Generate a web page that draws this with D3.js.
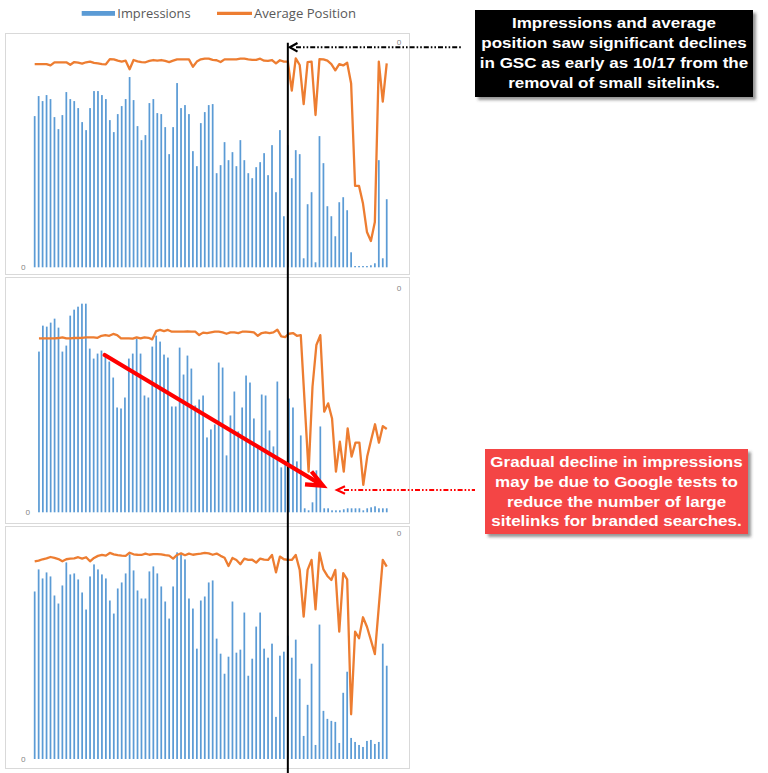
<!DOCTYPE html>
<html><head><meta charset="utf-8">
<script src="https://cdn.jsdelivr.net/npm/d3@7"></script>
<style>body{margin:0;background:#fff;} svg{display:block;}</style>
</head><body>
<svg id="c" width="768" height="773"></svg>
<script>
// ---------- DATA ----------
const days = d3.timeDay.range(new Date(2017, 7, 14), new Date(2017, 10, 12)).map(d3.timeFormat("%m/%d"));
const markerDay = "10/17";
const seriesNames = ["Impressions", "Average Position"];
const axisTickLabels = ["0"];

const impressionsA = [151,171,166,172,168,150,138,152,175,168,
 166,159,145,137,159,176,176,172,168,147,
 135,153,161,168,190,167,141,127,132,164,
 168,154,153,140,113,140,184,159,162,153,
 116,101,144,155,162,163,94,102,125,107,
 115,101,127,107,94,89,100,105,114,92,
 122,75,137,51,122,89,117,113,9,63,
 75,5,131,104,61,51,31,65,70,57,
 15,1.3,1.3,1.3,1.3,2,4,107,9,68];
const positionA = [0.98,0.98,0.98,0.98,1.04,0.90,0.90,0.90,0.90,1.01,
 0.89,0.92,0.96,0.90,0.87,0.93,0.95,0.98,0.99,0.76,
 0.77,0.83,0.87,0.83,1.21,0.80,0.86,0.89,0.90,0.84,
 0.80,0.83,0.80,0.84,0.89,0.83,0.77,0.77,0.77,0.77,
 1.10,0.87,0.77,0.74,0.74,0.79,0.81,0.89,0.77,0.77,
 0.77,0.77,0.74,0.74,0.77,0.79,0.79,0.74,0.83,0.84,
 0.80,0.95,0.81,0.87,0.87,2.16,0.73,1.02,2.76,0.89,
 0.87,3.24,0.76,0.77,0.83,0.98,1.26,0.98,1.04,0.92,
 1.84,6.39,6.39,7.17,8.43,8.83,7.99,0.87,2.65,0.95];

const impressionsB = [161,187,186,190,194,185,161,167,197,203,
 206,209,209,164,154,159,162,156,151,135,
 105,104,115,154,159,174,159,117,115,166,
 177,171,158,155,106,106,165,138,157,144,
 107,113,117,75,83,88,150,145,57,97,
 121,81,105,137,130,94,66,118,117,82,
 66,131,45,51,114,105,51,77,4,2,
 10,42,86,4,4,2,2,2,3,4,
 4,4,4,2,4,5,6,4,4,4];
const positionB = [2.26,2.26,2.26,2.26,2.26,2.24,2.21,2.26,2.26,2.24,
 2.24,2.23,2.21,2.21,2.21,2.23,2.14,2.11,2.14,2.06,
 2.11,2.26,2.26,2.26,2.27,2.21,2.26,2.21,2.23,2.30,
 1.93,1.88,1.93,1.88,1.96,1.96,1.96,1.96,1.94,1.96,
 1.96,2.11,2.00,2.02,1.99,1.96,1.96,1.99,2.05,1.99,
 1.99,2.02,1.96,1.96,1.97,1.99,2.14,2.02,1.99,2.02,
 1.99,1.87,2.17,2.20,2.05,2.02,2.14,2.11,5.15,8.19,
 4.41,2.55,2.11,5.52,5.15,5.82,8.19,6.85,8.19,6.26,
 7.52,6.90,6.90,8.78,7.52,6.78,6.08,6.90,6.16,6.29];

const impressionsC = [167,189,180,186,182,163,155,173,196,184,
 185,179,166,149,182,194,189,184,180,158,
 145,170,176,185,204,188,168,160,160,187,
 192,185,172,157,140,172,206,204,199,160,
 150,110,158,162,176,178,120,105,85,102,
 157,106,109,146,83,100,132,146,110,101,
 115,42,103,107,123,101,119,80,23,54,
 95,14,134,48,40,38,37,16,66,87,
 21,17,14,12,18,19,15,17,115,93];
const positionC = [1.24,1.21,1.15,1.11,1.05,1.09,1.14,1.24,1.15,1.12,
 1.11,1.06,1.12,1.06,1.24,1.09,1.00,0.96,0.99,0.87,
 0.93,0.97,0.99,1.00,0.86,0.93,0.95,0.96,0.90,0.95,
 0.92,0.92,0.93,0.97,0.99,1.12,0.96,0.89,0.97,0.90,
 0.95,0.92,0.90,0.87,0.89,0.95,0.90,1.00,1.08,1.45,
 1.09,1.18,1.37,1.12,1.18,1.17,1.30,1.12,1.17,1.18,
 0.96,1.73,1.03,1.15,1.18,1.18,0.96,1.62,3.69,1.62,
 1.18,3.37,0.86,1.60,1.89,2.07,1.62,4.36,1.77,2.04,
 8.02,4.36,4.65,3.72,4.14,4.73,5.35,3.25,1.18,1.48];

const impressionsMax = 225;
const positionMax = 10;

const noteTop = ["Impressions and average", "position saw significant declines",
                 "in GSC as early as 10/17 from the", "removal of small sitelinks."];
const noteBottom = ["Gradual decline in impressions", "may be due to Google tests to",
                    "reduce the number of large", "sitelinks for branded searches."];

// ---------- STYLE ----------
const BLUE = "#5B9BD5", ORANGE = "#ED7D31", RED_BOX = "#f44545", RED = "#ff0000";
const SX = 1.165; // horizontal stretch seen in the picture text

const svg = d3.select("#c");
svg.append("rect").attr("width", 768).attr("height", 773).attr("fill", "#fff");

const defs = svg.append("defs");
const f = defs.append("filter").attr("id", "sh").attr("x", "-10%").attr("y", "-10%").attr("width", "130%").attr("height", "140%");
f.append("feDropShadow").attr("dx", 3).attr("dy", 3).attr("stdDeviation", 1.6)
  .attr("flood-color", "#404040").attr("flood-opacity", 0.55);

// ---------- LEGEND ----------
const lg = svg.append("g");
lg.append("rect").attr("x", 81.7).attr("y", 11).attr("width", 33.3).attr("height", 4.8).attr("fill", BLUE);
lg.append("text").attr("x", 117.3).attr("y", 18).attr("textLength", 73.3).attr("lengthAdjust", "spacingAndGlyphs")
  .attr("font-family", "Open Sans, sans-serif").attr("font-size", 12.8).attr("fill", "#595959").text(seriesNames[0]);
lg.append("line").attr("x1", 217).attr("x2", 252).attr("y1", 13.4).attr("y2", 13.4)
  .attr("stroke", ORANGE).attr("stroke-width", 3.2);
lg.append("text").attr("x", 254).attr("y", 18).attr("textLength", 102).attr("lengthAdjust", "spacingAndGlyphs")
  .attr("font-family", "Open Sans, sans-serif").attr("font-size", 12.8).attr("fill", "#595959").text(seriesNames[1]);

// ---------- PANELS ----------
const panels = [
  {imp: impressionsA, pos: positionA, box: [5, 33, 404, 241], x: [32.7, 388.7], y: [267.3, 42]},
  {imp: impressionsB, pos: positionB, box: [5, 277, 404, 246], x: [37.0, 388.7], y: [512.3, 287.7]},
  {imp: impressionsC, pos: positionC, box: [5, 526, 404, 242], x: [32.7, 388.7], y: [759, 533.3]}
];

let markerX = null;
panels.forEach((p, k) => {
  const g = svg.append("g");
  g.append("rect").attr("x", p.box[0] + 0.5).attr("y", p.box[1] + 0.5).attr("width", p.box[2]).attr("height", p.box[3])
    .attr("fill", "#fff").attr("stroke", "#d9d9d9").attr("stroke-width", 1);

  const x = d3.scaleBand().domain(days).range(p.x).paddingInner(0.56).paddingOuter(0.28);
  const yI = d3.scaleLinear().domain([0, impressionsMax]).range(p.y);
  const yP = d3.scaleLinear().domain([0, positionMax]).range([p.y[1], p.y[0]]);
  const cx = d => x(d) + x.bandwidth() / 2;
  if (k === 0) markerX = cx(markerDay);

  g.selectAll("rect.bar").data(p.imp).join("rect").attr("class", "bar")
    .attr("x", (d, i) => x(days[i])).attr("width", x.bandwidth())
    .attr("y", d => yI(d)).attr("height", d => yI(0) - yI(d)).attr("fill", BLUE);

  const line = d3.line().x((d, i) => cx(days[i])).y(d => yP(d));
  g.append("path").datum(p.pos).attr("d", line).attr("fill", "none")
    .attr("stroke", ORANGE).attr("stroke-width", 2.3).attr("stroke-linejoin", "round");

  const la = g.append("g").attr("transform", `translate(${p.x[0]},0)`)
    .call(d3.axisLeft(yI).tickValues([0]).tickSize(0).tickPadding(7).tickFormat(() => axisTickLabels[0]));
  const ra = g.append("g").attr("transform", `translate(${p.x[1]},0)`)
    .call(d3.axisRight(yP).tickValues([0]).tickSize(0).tickPadding(8).tickFormat(() => axisTickLabels[0]));
  [la, ra].forEach(a => {
    a.select(".domain").remove();
    a.selectAll("text").attr("font-family", "Open Sans, sans-serif").attr("font-size", 8).attr("fill", "#7f7f7f");
  });
});

// ---------- ANNOTATIONS ----------
const ann = svg.append("g");
// vertical marker line
ann.append("line").attr("x1", markerX).attr("x2", markerX).attr("y1", 42.7).attr("y2", 773)
  .attr("stroke", "#000").attr("stroke-width", 2);

// black dash-dot arrow
ann.append("line").attr("x1", 296).attr("x2", 461).attr("y1", 47.3).attr("y2", 47.3)
  .attr("stroke", "#000").attr("stroke-width", 2).attr("stroke-dasharray", "5,2,1.6,2,1.6,2");
ann.append("path").attr("d", d3.line()([[297.5, 43], [289.8, 47.3], [297.5, 51.6]]))
  .attr("fill", "none").attr("stroke", "#000").attr("stroke-width", 2.2);

// red dash-dot arrow
ann.append("line").attr("x1", 344).attr("x2", 475).attr("y1", 490).attr("y2", 490)
  .attr("stroke", RED).attr("stroke-width", 2).attr("stroke-dasharray", "5,2,1.6,2,1.6,2");
ann.append("path").attr("d", d3.line()([[345, 486.3], [337, 490], [345, 493.7]]))
  .attr("fill", "none").attr("stroke", RED).attr("stroke-width", 2.2);

// thick red arrow
const a0 = [104.7, 355], a1 = [323, 485.7];
ann.append("line").attr("x1", a0[0]).attr("y1", a0[1]).attr("x2", a1[0] - 3).attr("y2", a1[1] - 1.8)
  .attr("stroke", RED).attr("stroke-width", 4.2).attr("stroke-linecap", "round");
ann.append("path").attr("d", d3.line()([[311.5, 471.5], [a1[0], a1[1]], [305, 484.3]]))
  .attr("fill", "none").attr("stroke", RED).attr("stroke-width", 4.2).attr("stroke-linejoin", "miter");

// text boxes
function noteBox(lines, box, fill, baselines) {
  const g = svg.append("g");
  g.append("rect").attr("x", box[0]).attr("y", box[1]).attr("width", box[2]).attr("height", box[3])
    .attr("fill", fill).attr("filter", "url(#sh)");
  const cx = box[0] + box[2] / 2;
  lines.forEach((t, i) => {
    g.append("text").attr("transform", `translate(${cx},${baselines[i]}) scale(${SX},1)`)
      .attr("text-anchor", "middle").attr("font-family", "Liberation Sans, Arial, sans-serif")
      .attr("font-weight", "bold").attr("font-size", 14.6).attr("fill", "#fff").text(t);
  });
}
noteBox(noteTop, [475, 10, 278, 87], "#000", [28.3, 48.2, 68.1, 87.6]);
noteBox(noteBottom, [485, 449, 263, 85], RED_BOX, [466.7, 486.6, 506.5, 526]);
</script>
</body></html>
